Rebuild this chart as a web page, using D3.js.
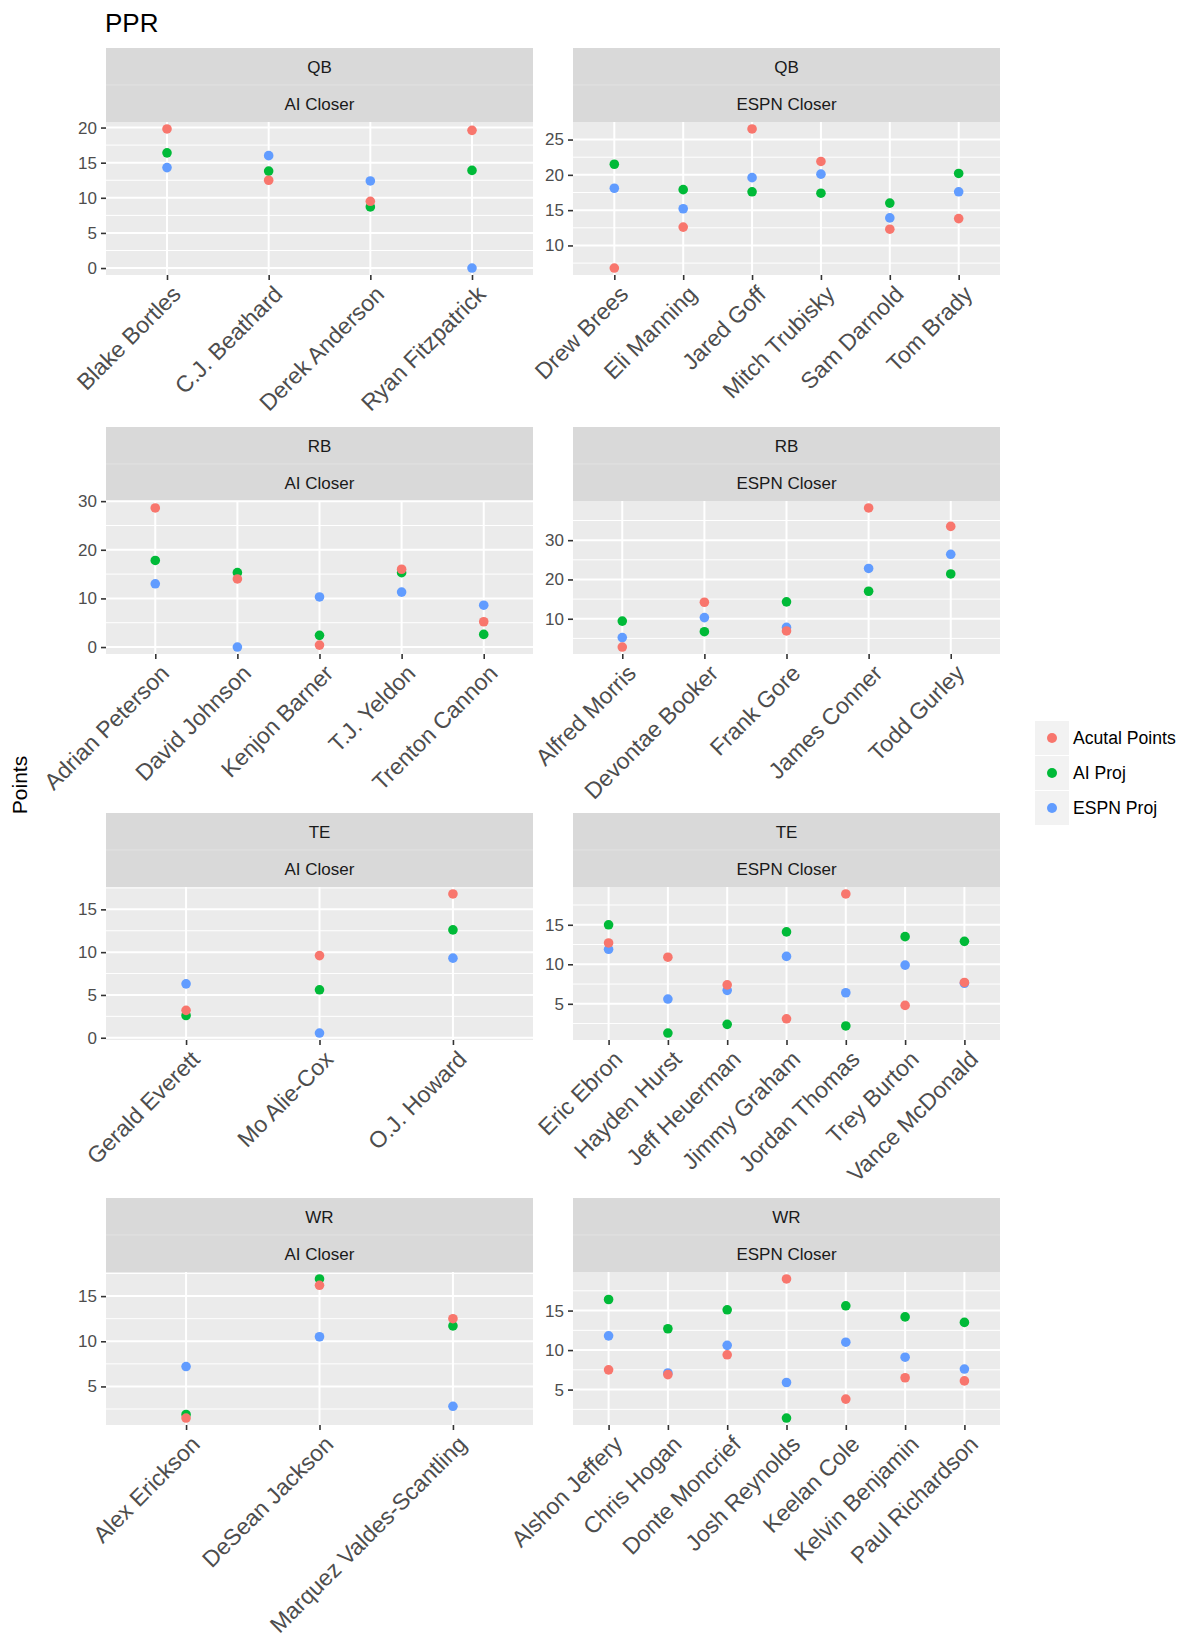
<!DOCTYPE html>
<html>
<head>
<meta charset="utf-8">
<script src="https://cdn.jsdelivr.net/npm/d3@7"></script>
<style>
  body { margin: 0; background: #fff; }
  text { font-family: "Liberation Sans", Arial, Helvetica, sans-serif; }
</style>
</head>
<body>
<script>
// series / legend
const seriesNames = ['Acutal Points', 'AI Proj', 'ESPN Proj'];
const seriesColors = ['#F8766D', '#00BA38', '#619CFF'];

const positions = ['QB', 'RB', 'TE', 'WR'];
const closers = ['AI Closer', 'ESPN Closer'];

// QB
const qbAiPlayers = ['Blake Bortles', 'C.J. Beathard', 'Derek Anderson', 'Ryan Fitzpatrick'];
const qbAiActual = [19.8, 12.5, 9.5, 19.6];
const qbAiProj = [16.4, 13.8, 8.7, 13.9];
const qbAiEspn = [14.3, 16.0, 12.4, 0];
const qbAiTicks = [0, 5, 10, 15, 20];

const qbEspnPlayers = ['Drew Brees', 'Eli Manning', 'Jared Goff', 'Mitch Trubisky', 'Sam Darnold', 'Tom Brady'];
const qbEspnActual = [6.8, 12.6, 26.5, 21.9, 12.3, 13.8];
const qbEspnProj = [21.5, 17.9, 17.6, 17.4, 16.0, 20.2];
const qbEspnEspn = [18.1, 15.2, 19.6, 20.1, 13.9, 17.6];
const qbEspnTicks = [10, 15, 20, 25];

// RB
const rbAiPlayers = ['Adrian Peterson', 'David Johnson', 'Kenjon Barner', 'T.J. Yeldon', 'Trenton Cannon'];
const rbAiActual = [28.6, 14.0, 0.4, 16.0, 5.2];
const rbAiProj = [17.8, 15.3, 2.4, 15.3, 2.6];
const rbAiEspn = [13.0, 0, 10.3, 11.3, 8.6];
const rbAiTicks = [0, 10, 20, 30];

const rbEspnPlayers = ['Alfred Morris', 'Devontae Booker', 'Frank Gore', 'James Conner', 'Todd Gurley'];
const rbEspnActual = [2.8, 14.2, 6.9, 38.2, 33.5];
const rbEspnProj = [9.4, 6.7, 14.3, 17.0, 21.4];
const rbEspnEspn = [5.2, 10.3, 7.8, 22.8, 26.4];
const rbEspnTicks = [10, 20, 30];

// TE
const teAiPlayers = ['Gerald Everett', 'Mo Alie-Cox', 'O.J. Howard'];
const teAiActual = [3.2, 9.6, 16.8];
const teAiProj = [2.6, 5.6, 12.6];
const teAiEspn = [6.3, 0.55, 9.3];
const teAiTicks = [0, 5, 10, 15];

const teEspnPlayers = ['Eric Ebron', 'Hayden Hurst', 'Jeff Heuerman', 'Jimmy Graham', 'Jordan Thomas', 'Trey Burton', 'Vance McDonald'];
const teEspnActual = [12.7, 10.9, 7.4, 3.1, 18.9, 4.8, 7.7];
const teEspnProj = [15.0, 1.3, 2.4, 14.1, 2.2, 13.5, 12.9];
const teEspnEspn = [11.9, 5.6, 6.7, 11.0, 6.4, 9.9, 7.6];
const teEspnTicks = [5, 10, 15];

// WR
const wrAiPlayers = ['Alex Erickson', 'DeSean Jackson', 'Marquez Valdes-Scantling'];
const wrAiActual = [1.5, 16.2, 12.5];
const wrAiProj = [1.9, 16.9, 11.7];
const wrAiEspn = [7.2, 10.5, 2.8];
const wrAiTicks = [5, 10, 15];

const wrEspnPlayers = ['Alshon Jeffery', 'Chris Hogan', 'Donte Moncrief', 'Josh Reynolds', 'Keelan Cole', 'Kelvin Benjamin', 'Paul Richardson'];
const wrEspnActual = [7.5, 6.9, 9.4, 19.0, 3.8, 6.5, 6.1];
const wrEspnProj = [16.4, 12.7, 15.1, 1.4, 15.6, 14.2, 13.5];
const wrEspnEspn = [11.8, 7.1, 10.6, 5.9, 11.0, 9.1, 7.6];
const wrEspnTicks = [5, 10, 15];

const panels = [
    {players: qbAiPlayers, vals: [qbAiActual, qbAiProj, qbAiEspn], ticks: qbAiTicks},
    {players: qbEspnPlayers, vals: [qbEspnActual, qbEspnProj, qbEspnEspn], ticks: qbEspnTicks},
    {players: rbAiPlayers, vals: [rbAiActual, rbAiProj, rbAiEspn], ticks: rbAiTicks},
    {players: rbEspnPlayers, vals: [rbEspnActual, rbEspnProj, rbEspnEspn], ticks: rbEspnTicks},
    {players: teAiPlayers, vals: [teAiActual, teAiProj, teAiEspn], ticks: teAiTicks},
    {players: teEspnPlayers, vals: [teEspnActual, teEspnProj, teEspnEspn], ticks: teEspnTicks},
    {players: wrAiPlayers, vals: [wrAiActual, wrAiProj, wrAiEspn], ticks: wrAiTicks},
    {players: wrEspnPlayers, vals: [wrEspnActual, wrEspnProj, wrEspnEspn], ticks: wrEspnTicks}
];

// layout
const width = 1200, height = 1650;
const colLeft = [106, 573];
const panelW = 427;
const rowTop = [48, 427, 813, 1198];
const stripH = 37;
const panelH = 153;

const svg = d3.select('body').append('svg')
    .attr('width', width)
    .attr('height', height);

svg.append('rect').attr('width', width).attr('height', height).attr('fill', '#fff');

svg.append('text')
    .text('PPR')
    .attr('x', 105)
    .attr('y', 32)
    .attr('font-size', 26)
    .attr('fill', '#000');

svg.append('text')
    .text('Points')
    .attr('transform', 'translate(27, 785) rotate(-90)')
    .attr('text-anchor', 'middle')
    .attr('font-size', 21)
    .attr('fill', '#000');

// draw order so red ends on top
const drawOrder = [1, 2, 0];

panels.forEach(function(p, idx) {
    const col = idx % 2;
    const row = Math.floor(idx / 2);
    const x0 = colLeft[col];
    const top = rowTop[row];
    const pTop = top + stripH * 2;
    const pBottom = pTop + panelH;

    const g = svg.append('g');

    // strips
    g.append('rect').attr('x', x0).attr('y', top).attr('width', panelW).attr('height', stripH).attr('fill', '#D9D9D9');
    g.append('rect').attr('x', x0).attr('y', top + stripH).attr('width', panelW).attr('height', stripH).attr('fill', '#D9D9D9');
    g.append('line').attr('x1', x0).attr('x2', x0 + panelW).attr('y1', top + stripH).attr('y2', top + stripH)
        .attr('stroke', '#E2E2E2').attr('stroke-width', 1);
    g.append('text').text(positions[row])
        .attr('x', x0 + panelW / 2).attr('y', top + stripH / 2).attr('dy', '0.36em')
        .attr('text-anchor', 'middle').attr('font-size', 17).attr('fill', '#1A1A1A');
    g.append('text').text(closers[col])
        .attr('x', x0 + panelW / 2).attr('y', top + stripH * 1.5).attr('dy', '0.36em')
        .attr('text-anchor', 'middle').attr('font-size', 17).attr('fill', '#1A1A1A');

    // panel background
    g.append('rect').attr('x', x0).attr('y', pTop).attr('width', panelW).attr('height', panelH).attr('fill', '#EBEBEB');

    const all = [].concat(...p.vals);
    const ext = d3.extent(all);
    const pad = (ext[1] - ext[0]) * 0.05;
    const yScale = d3.scaleLinear()
        .domain([ext[0] - pad, ext[1] + pad])
        .range([pBottom, pTop]);

    const xScale = d3.scalePoint()
        .domain(p.players)
        .range([x0, x0 + panelW])
        .padding(0.6);

    // minor grid
    const step = p.ticks[1] - p.ticks[0];
    const minors = [];
    for (let v = p.ticks[0] - step / 2; v <= p.ticks[p.ticks.length - 1] + step / 2 + 1e-9; v += step) {
        if (v >= yScale.domain()[0] && v <= yScale.domain()[1]) minors.push(v);
    }
    g.selectAll('.minor').data(minors).enter().append('line')
        .attr('x1', x0).attr('x2', x0 + panelW)
        .attr('y1', d => yScale(d)).attr('y2', d => yScale(d))
        .attr('stroke', '#fff').attr('stroke-width', 1);

    // major grid
    g.selectAll('.major').data(p.ticks).enter().append('line')
        .attr('x1', x0).attr('x2', x0 + panelW)
        .attr('y1', d => yScale(d)).attr('y2', d => yScale(d))
        .attr('stroke', '#fff').attr('stroke-width', 2);
    g.selectAll('.vmajor').data(p.players).enter().append('line')
        .attr('x1', d => xScale(d)).attr('x2', d => xScale(d))
        .attr('y1', pTop).attr('y2', pBottom)
        .attr('stroke', '#fff').attr('stroke-width', 2);

    // y axis
    const yAxis = g.append('g')
        .attr('transform', `translate(${x0}, 0)`)
        .call(d3.axisLeft(yScale).tickValues(p.ticks).tickSize(5).tickPadding(4).tickFormat(d3.format('d')));
    yAxis.select('.domain').remove();
    yAxis.selectAll('line').attr('stroke', '#333').attr('stroke-width', 1.6);
    yAxis.selectAll('text').attr('font-size', 17).attr('fill', '#4D4D4D')
        .attr('font-family', '"Liberation Sans", Arial, sans-serif');

    // x axis
    const xAxis = g.append('g')
        .attr('transform', `translate(0, ${pBottom})`)
        .call(d3.axisBottom(xScale).tickSize(5).tickPadding(0));
    xAxis.select('.domain').remove();
    xAxis.selectAll('line').attr('stroke', '#333').attr('stroke-width', 1.6);
    xAxis.selectAll('text')
        .attr('font-size', 23)
        .attr('fill', '#4D4D4D')
        .attr('font-family', '"Liberation Sans", Arial, sans-serif')
        .attr('text-anchor', 'end')
        .attr('x', 0).attr('y', 0).attr('dy', '0.72em')
        .attr('transform', 'translate(3, 9) rotate(-45)');

    // points
    drawOrder.forEach(function(s) {
        g.selectAll('.pt' + s)
            .data(p.players.map((name, i) => ({name: name, v: p.vals[s][i]})))
            .enter()
            .append('circle')
            .attr('cx', d => xScale(d.name))
            .attr('cy', d => yScale(d.v))
            .attr('r', 4.8)
            .attr('fill', seriesColors[s]);
    });
});

// legend
const legend = svg.append('g').attr('transform', 'translate(1035, 721)');
seriesNames.forEach(function(name, i) {
    const ly = i * 35;
    legend.append('rect').attr('x', 0).attr('y', ly).attr('width', 34).attr('height', 34).attr('fill', '#F2F2F2');
    legend.append('circle').attr('cx', 17).attr('cy', ly + 17).attr('r', 5).attr('fill', seriesColors[i]);
    legend.append('text').text(name)
        .attr('x', 38).attr('y', ly + 17).attr('dy', '0.36em')
        .attr('font-size', 17.6).attr('fill', '#000');
});
</script>
</body>
</html>
